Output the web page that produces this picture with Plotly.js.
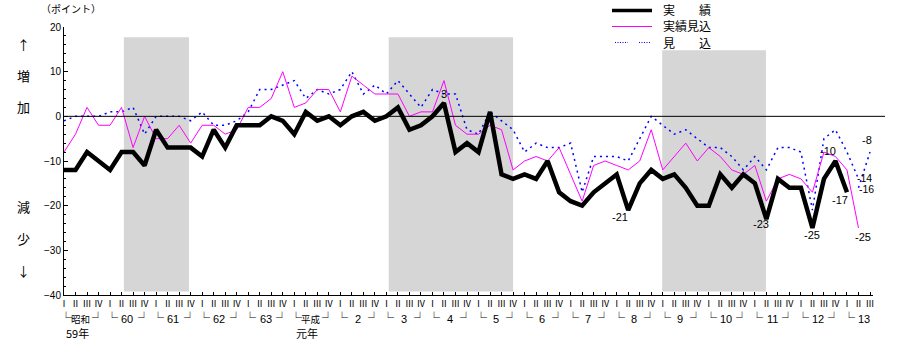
<!DOCTYPE html>
<html><head><meta charset="utf-8">
<script src="https://cdn.plot.ly/plotly-3.0.1.min.js"></script>
<style>body{margin:0;background:#fff}</style>
</head><body><div id="chart" style="width:904px;height:358px"></div>
<script>
// ---- data ----
const quarterNames = ['Ⅰ','Ⅱ','Ⅲ','Ⅳ'];
const yearLabels = ['昭和','60','61','62','63','平成','2','3','4','5','6','7','8','9','10','11','12','13'];
const yearSubLabels = ['59年','','','','','元年','','','','','','','','','','','',''];
const lastYearQuarters = 3;

// 実績 (1984 I – 2001 I)
const jisseki = [-12,-12,-8,-10,-12,-8,-8,-11,-3,-7,
                 -7,-7,-9,-3,-7,-2,-2,-2,0,-1,
                 -4,1,-1,0,-2,0,1,-1,0,2,
                 -3,-2,0,3,-8,-6,-8,1,-13,-14,
                 -13,-14,-10,-17,-19,-20,-17,-15,-13,-21,
                 -15,-12,-14,-13,-16,-20,-20,-13,-16,-13,
                 -15,-23,-14,-16,-16,-25,-14,-10,-17];
// 実績見込 (1984 I – 2001 II)
const jissekiMikomi = [-8,-4,2,-2,-2,2,-7,0,-5,-5,
                       -2,-6,-2,-2,-4,-3,2,2,4,10,
                       2,3,6,6,1,9,7,5,5,5,
                       0,1,1,8,-2,-4,-4,-2,-3,-12,
                       -10,-9,-10,-7,-13,-19,-11,-10,-11,-12,
                       -10,-3,-12,-9,-6,-10,-7,-9,-12,-13,
                       -11,-19,-14,-13,-14,-17,-8,-9,-12,-25];
// 見込 (1984 I – 2001 II)
const mikomi = [-1,0,0,0,1,1,2,-4,0,0,
                0,-1,1,-2,-2,-1,1,6,6,7,
                8,4,6,5,6,10,5,7,5,8,
                5,2,6,5,5,-3,-4,1,-1,-3,
                -8,-6,-7,-7,-6,-17,-9,-9,-9,-10,
                -5,0,-2,-4,-3,-5,-7,-7,-9,-12,
                -9,-12,-7,-7,-8,-21,-5,-3,-8,-14];
// latest 見込 segment (2001 II – III)
const mikomiLatestIdx = [69,70];
const mikomiLatest = [-16,-8];

// shaded periods (in quarter-index units)
const shadeStart = [5.2, 28.2, 51.95];
const shadeEnd   = [10.85, 39.0, 60.96];
const shadeTop   = [17.7, 17.7, 14.8];
const shadeBottom = -39.2;

// ---- build categories ----
const tickText = [];
yearLabels.forEach((y,k)=>{
  const nq = (k===yearLabels.length-1) ? lastYearQuarters : 4;
  for(let q=0;q<nq;q++) tickText.push(quarterNames[q]);
});
const tickVals = tickText.map((_,i)=>i);
const idx = n => Array.from({length:n},(_,i)=>i);

const JP = 'Noto Sans CJK JP, sans-serif';
const NUM = 'Liberation Sans, Arial, sans-serif';

const traces = [
  {x: idx(mikomi.length), y: mikomi, mode:'lines', line:{color:'#0000ff', width:1.5, dash:'2px,4px'}, name:'見込', hoverinfo:'skip'},
  {x: mikomiLatestIdx, y: mikomiLatest, mode:'lines', line:{color:'#0000ff', width:1.5, dash:'2px,4px'}, name:'見込2', hoverinfo:'skip'},
  {x: idx(jissekiMikomi.length), y: jissekiMikomi, mode:'lines', line:{color:'#ff00ff', width:1}, name:'実績見込', hoverinfo:'skip'},
  {x: idx(jisseki.length), y: jisseki, mode:'lines', line:{color:'#000000', width:4.5}, name:'実績', hoverinfo:'skip'}
];

const W = 904, H = 358, L = 64, R = 31, T = 27, B = 63;
const pw = W-L-R, ph = H-T-B;
const px = x => (x-L)/pw;
const py = y => (H-B-y)/ph;

const shapes = [];
shadeStart.forEach((s,k)=>{
  shapes.push({type:'rect', xref:'x', yref:'y', x0:s, x1:shadeEnd[k], y0:shadeBottom, y1:shadeTop[k],
    fillcolor:'#d6d6d6', line:{width:0}, layer:'below'});
});
// zero line
shapes.push({type:'line', xref:'paper', yref:'y', x0:0, x1:px(885), y0:0, y1:0, line:{color:'#000', width:1}});
// legend samples
shapes.push({type:'line', xref:'paper', yref:'paper', x0:px(612), x1:px(652), y0:py(10.5), y1:py(10.5), line:{color:'#000', width:3.5}});
shapes.push({type:'line', xref:'paper', yref:'paper', x0:px(612), x1:px(652), y0:py(26.5), y1:py(26.5), line:{color:'#ff00ff', width:1}});
shapes.push({type:'line', xref:'paper', yref:'paper', x0:px(615), x1:px(628), y0:py(42.5), y1:py(42.5), line:{color:'#0000ff', width:1.2, dash:'1px,1.5px'}});
shapes.push({type:'line', xref:'paper', yref:'paper', x0:px(639), x1:px(651), y0:py(42.5), y1:py(42.5), line:{color:'#0000ff', width:1.2, dash:'1px,1.5px'}});

const ann = [];
const txt = (t, x, y, opts={}) => ann.push(Object.assign({text:t, x:x, y:y, xref:'paper', yref:'paper', showarrow:false,
  font:{family:JP, size:12, color:'#000'}, xanchor:'center', yanchor:'middle'}, opts));

// legend texts
txt('実　　績', px(661), py(10), {xanchor:'left'});
txt('実績見込', px(661), py(26), {xanchor:'left'});
txt('見　　込', px(661), py(42), {xanchor:'left'});
// unit + side labels
txt('（ポイント）', px(71), py(8), {font:{family:JP, size:10, color:'#000'}});
[['↑',44],['増',75],['加',106],['減',206],['少',238],['↓',270]].forEach(([t,y])=>txt(t, px(23), py(y), {font:{family:JP, size:13, color:'#000'}}));

// year group labels under the axis
const row1 = py(319), row2 = py(333.5);
yearLabels.forEach((lab,k)=>{
  const s = 4*k;
  const isNum = !isNaN(lab);
  ann.push({text:'└', x:s, xref:'x', y:row1, yref:'paper', showarrow:false, xanchor:'left', yanchor:'middle', xshift:-6, yshift:2, font:{family:JP, size:12, color:'#000'}});
  ann.push({text:lab, x:s+1.5, xref:'x', y:row1, yref:'paper', showarrow:false, xanchor:'center', yanchor:'middle', xshift:isNum?0:-1, font:{family:(isNum?NUM:JP), size:(isNum?11:9.5), color:'#000'}});
  if(k < yearLabels.length-1)
    ann.push({text:'┘', x:s+3, xref:'x', y:row1, yref:'paper', showarrow:false, xanchor:'right', yanchor:'middle', xshift:7, yshift:2, font:{family:JP, size:12, color:'#000'}});
  if(yearSubLabels[k])
    ann.push({text:yearSubLabels[k], x:s, xref:'x', y:row2, yref:'paper', showarrow:false, xanchor:'left', yanchor:'middle', xshift:0, font:{family:JP, size:11, color:'#000'}});
});

// value labels
const valLabel = (arr, i, dx, dy, x, sz) => ann.push({text:String(arr[i]), x:(x===undefined?i:x), y:arr[i], xref:'x', yref:'y', showarrow:false,
  xanchor:'center', yanchor:'middle', xshift:dx, yshift:dy, font:{family:NUM, size:(sz||11), color:'#000'}});
valLabel(jisseki, 33, 0, 9);
valLabel(jisseki, 49, -8, -7);
valLabel(jisseki, 61, -5, -5);
valLabel(jisseki, 65, 0, -7);
valLabel(jisseki, 67, -7, 10);
valLabel(jisseki, 68, -7, -8);
valLabel(jissekiMikomi, 69, 5, -9);
valLabel(mikomiLatest, 1, -3, 12, mikomiLatestIdx[1]);
valLabel(mikomi, 69, 6, 1, undefined, 10.5);
valLabel(mikomiLatest, 0, 8, -1, mikomiLatestIdx[0], 10.5);

const layout = {
  width:W, height:H, margin:{l:L, r:R, t:T, b:B},
  paper_bgcolor:'#fff', plot_bgcolor:'rgba(0,0,0,0)', showlegend:false,
  xaxis:{range:[0,70.26], tickmode:'array', tickvals:tickVals, ticktext:tickText, tickangle:0, ticks:'inside', ticklen:3, tickcolor:'#000',
    showline:true, linecolor:'#000', linewidth:1, showgrid:false, zeroline:false, tickfont:{family:JP, size:9, color:'#000'}, fixedrange:true},
  yaxis:{range:[-40,20], tickmode:'array', tickvals:[-40,-30,-20,-10,0,10,20], ticks:'inside', ticklen:4, tickcolor:'#000',
    minor:{dtick:2, ticks:'inside', ticklen:2, tickcolor:'#000', showgrid:false},
    showline:true, linecolor:'#000', linewidth:1, showgrid:false, zeroline:false, tickfont:{family:NUM, size:10, color:'#000'}, fixedrange:true},
  shapes:shapes, annotations:ann
};
Plotly.newPlot('chart', traces, layout, {staticPlot:true, displayModeBar:false});
</script></body></html>
